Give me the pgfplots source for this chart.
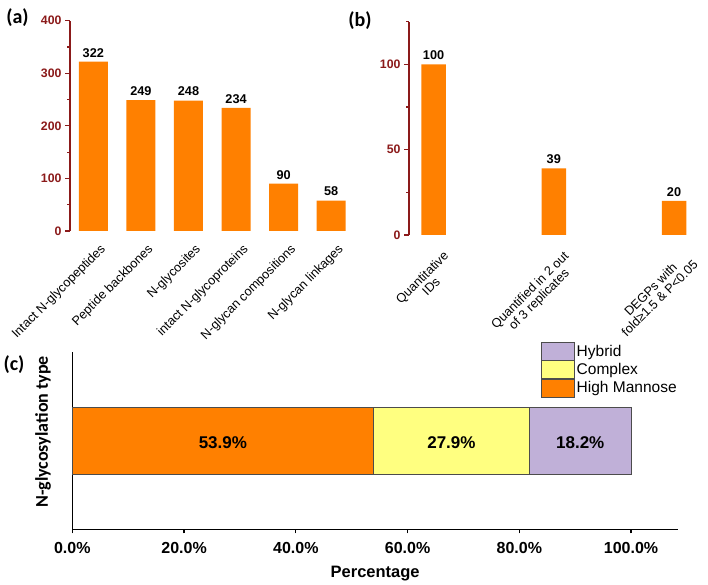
\documentclass[border=0pt]{standalone}
\usepackage{pgfplots}
\pgfplotsset{compat=1.18}
\usepackage{fontspec}
\setmainfont{Liberation Sans}
\newfontfamily\calibri{Carlito}
\definecolor{barorange}{HTML}{FF8000}
\definecolor{axred}{HTML}{8B1A1A}
\definecolor{cyellow}{HTML}{FFFF80}
\definecolor{hlav}{HTML}{C0B0D8}
\newcommand{\fs}[1]{\fontsize{#1}{#1}\selectfont}
\begin{document}
\begin{tikzpicture}[x=1pt,y=1pt]
\useasboundingbox (0,0) rectangle (708,585);
% ---------------- panel (a)
\begin{axis}[
  at={(70pt,354pt)}, anchor=south west,
  scale only axis, width=285pt, height=210.3pt,
  xmin=-0.49, xmax=5.5, ymin=0, ymax=400,
  axis y line*=left, axis x line*=bottom,
  x axis line style={draw=none},
  y axis line style={draw=axred, line width=1.2pt},
  ytick={0,100,200,300,400},
  minor ytick={50,150,250,350},
  tick align=outside,
  tick style={draw=axred, line width=1.2pt},
  major tick length=5pt, minor tick length=3pt,
  xtick={0,...,5},
  xtick style={draw=none},
  xticklabels={Intact N-glycopeptides, Peptide backbones, N-glycosites, intact N-glycoproteins, N-glycan compositions, N-glycan linkages},
  xticklabel style={inner sep=0pt, xshift=6pt, yshift=-7pt, rotate=45, anchor=north east, font=\fs{12.7}},
  yticklabel style={font=\bfseries\fs{12.3}, text=axred},
  /pgf/number format/assume math mode=true,
  clip=false,
]
\addplot[ybar, bar shift=0pt, bar width=0.61, fill=barorange, draw=none,
  nodes near coords, nodes near coords style={font=\bfseries\fs{12.7}, text=black, yshift=1pt}]
  coordinates {(0,322) (1,249) (2,248) (3,234) (4,90) (5,58)};
\end{axis}
% ---------------- panel (b)
\begin{axis}[
  at={(409pt,350pt)}, anchor=south west,
  scale only axis, width=291pt, height=213.4pt,
  xmin=-0.204, xmax=2.216, ymin=0, ymax=125,
  axis y line*=left, axis x line*=bottom,
  x axis line style={draw=none},
  y axis line style={draw=axred, line width=1.2pt},
  ytick={0,50,100},
  minor ytick={25,75,125},
  tick align=outside,
  tick style={draw=axred, line width=1.2pt},
  major tick length=5pt, minor tick length=3pt,
  xtick={0,1,2},
  xtick style={draw=none},
  xticklabels={{Quantitative\\IDs},{Quantified in 2 out\\of 3 replicates},{DEGPs with\\fold≥1.5 \& P<0.05}},
  xticklabel style={inner sep=0pt, xshift=9pt, yshift=-10pt, rotate=45, anchor=north east, align=center, font=\fs{12.7}},
  yticklabel style={font=\bfseries\fs{12.3}, text=axred},
  /pgf/number format/assume math mode=true,
  clip=false,
]
\addplot[ybar, bar shift=0pt, bar width=0.204, fill=barorange, draw=none,
  nodes near coords, nodes near coords style={font=\bfseries\fs{12.7}, text=black, yshift=1pt}]
  coordinates {(0,100) (1,39) (2,20)};
\end{axis}
% ---------------- panel (c)
\begin{axis}[
  at={(72.3pt,55.7pt)}, anchor=south west,
  scale only axis, width=605.7pt, height=177.6pt,
  xmin=0, xmax=108.4, ymin=0, ymax=1,
  axis x line*=bottom, axis y line*=left,
  axis line style={line width=1.3pt, black},
  xbar stacked, bar width=0.374,
  ytick=\empty, xtick={0,20,40,60,80,100},
  xticklabels={0.0\%,20.0\%,40.0\%,60.0\%,80.0\%,100.0\%},
  tick align=outside, major tick length=4pt,
  xtick style={line width=1.3pt, black},
  xticklabel style={font=\bfseries\fs{16}, yshift=-5pt},
  xlabel={Percentage},
  xlabel style={font=\bfseries\fs{16.5}, at={(axis description cs:0.5,-0.252)}, anchor=center},
  ylabel={N-glycosylation type},
  ylabel style={font=\calibri\bfseries\fs{18}, at={(axis description cs:-0.0484,0.548)}, anchor=center},
  reverse legend,
  legend cell align=left,
  legend image code/.code={\draw[#1] (0pt,-9pt) rectangle (33pt,9pt);},
  legend style={at={(axis description cs:0.774,1.056)}, anchor=north west,
    draw=none, fill=none, inner sep=0pt, row sep=0pt, font=\fs{15.5}},
  clip=false,
]
\addplot[fill=barorange, draw=black!70] coordinates {(53.9,0.5)};
\addplot[fill=cyellow, draw=black!70] coordinates {(27.9,0.5)};
\addplot[fill=hlav, draw=black!70] coordinates {(18.2,0.5)};
\legend{High Mannose, Complex, Hybrid}
\end{axis}
% labels of the segments (centre of each segment)
\begin{axis}[
  at={(72.3pt,55.7pt)}, anchor=south west,
  scale only axis, width=605.7pt, height=177.6pt,
  xmin=0, xmax=108.4, ymin=0, ymax=1, hide axis, clip=false,
]
\addplot[draw=none, mark=none, point meta=explicit symbolic, nodes near coords,
  nodes near coords style={anchor=center, font=\bfseries\fs{17}, text=black, yshift=-2pt}]
  coordinates {(26.95,0.5) [53.9\%] (67.85,0.5) [27.9\%] (90.9,0.5) [18.2\%]};
\end{axis}
\node[font=\calibri\bfseries\fs{20}] at (17.5,567.5) {(a)};
\node[font=\calibri\bfseries\fs{20}] at (360,564) {(b)};
\node[font=\calibri\bfseries\fs{20}] at (14,220) {(c)};
\end{tikzpicture}
\end{document}
